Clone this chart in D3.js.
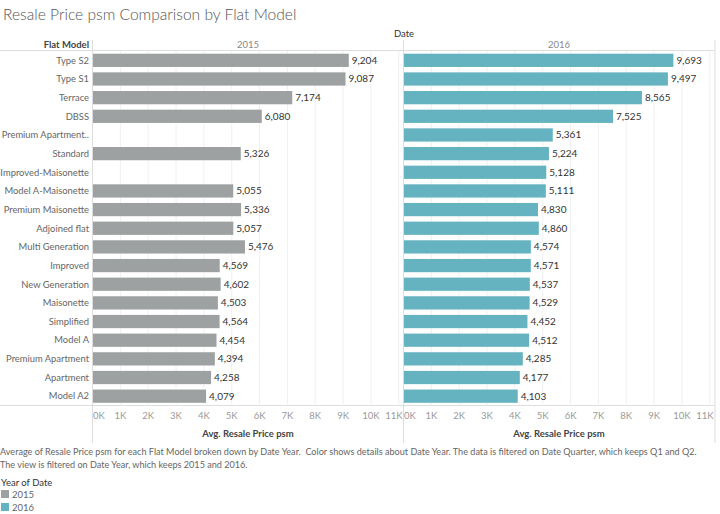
<!DOCTYPE html>
<html><head><meta charset="utf-8">
<script src="https://cdn.jsdelivr.net/npm/d3@7"></script>
<style>body{margin:0;background:#fff;} svg{display:block;font-family:Lato, "Open Sans", sans-serif;}</style>
</head><body>
<svg id="c" width="720" height="514"></svg>
<script>
const categories = ["Type S2","Type S1","Terrace","DBSS","Premium Apartment..","Standard","Improved-Maisonette","Model A-Maisonette","Premium Maisonette","Adjoined flat","Multi Generation","Improved","New Generation","Maisonette","Simplified","Model A","Premium Apartment","Apartment","Model A2"];
const years = ["2015","2016"];
const values2015 = [9204,9087,7174,6080,null,5326,null,5055,5336,5057,5476,4569,4602,4503,4564,4454,4394,4258,4079];
const values2016 = [9693,9497,8565,7525,5361,5224,5128,5111,4830,4860,4574,4571,4537,4529,4452,4512,4285,4177,4103];
const tickValues = [0,1000,2000,3000,4000,5000,6000,7000,8000,9000,10000,11000];
const colors = {"2015":"#9da1a2","2016":"#65b3c1"};

const svg = d3.select("#c");
const plotTop = 51, plotBottom = 405.5, plotLeft = 92.5, panelW = 311, rightEdge = 715;
const y = d3.scaleBand().domain(categories).range([plotTop, plotBottom]).paddingInner(0.29).paddingOuter(0.145);
const series = {"2015": values2015, "2016": values2016};
const fmt = d3.format(",");

svg.append("text").attr("x",3).attr("y",20).attr("font-size",15.6).attr("fill","#555").attr("font-weight",300).text("Resale Price psm Comparison by Flat Model");
svg.append("text").attr("x",404).attr("y",37).attr("text-anchor","middle").attr("font-size",9.5).attr("fill","#333").text("Date");
svg.append("text").attr("x",89).attr("y",48).attr("text-anchor","end").attr("font-size",9.5).attr("font-weight",700).attr("fill","#444").text("Flat Model");

svg.append("line").attr("x1",0).attr("x2",rightEdge).attr("y1",plotTop-0.5).attr("y2",plotTop-0.5).attr("stroke","#ddd");
svg.append("line").attr("x1",0).attr("x2",rightEdge).attr("y1",plotBottom).attr("y2",plotBottom).attr("stroke","#ddd");

years.forEach((yr, pi) => {
  const x0 = plotLeft + pi*panelW;
  const x = d3.scaleLinear().domain([0, 11170]).range([x0, x0+panelW]);
  const g = svg.append("g");
  g.selectAll("line.grid").data(tickValues.slice(1)).join("line")
    .attr("x1",d=>x(d)).attr("x2",d=>x(d)).attr("y1",plotTop).attr("y2",plotBottom).attr("stroke","#f0f0f0");
  g.append("text").attr("x",x0+panelW/2).attr("y",48).attr("text-anchor","middle").attr("font-size",9.5).attr("fill","#888").text(yr);
  const data = categories.map((c,i)=>({c, v: series[yr][i]})).filter(d=>d.v!=null);
  g.selectAll("rect").data(data).join("rect")
    .attr("x",x(0)).attr("y",d=>y(d.c)).attr("width",d=>x(d.v)-x(0)).attr("height",y.bandwidth()).attr("fill",colors[yr]);
  g.selectAll("text.val").data(data).join("text").attr("class","val")
    .attr("x",d=>x(d.v)+3).attr("y",d=>y(d.c)+y.bandwidth()/2).attr("dy","0.35em")
    .attr("font-size",10).attr("fill","#333").text(d=>fmt(d.v));
  g.selectAll("text.tick").data(tickValues).join("text").attr("class","tick")
    .attr("x",d=>{ const w = d>=10000?15:11; let cx = x(d); cx = Math.max(x0+1+w/2, Math.min(x0+panelW-2-w/2, cx)); return cx; })
    .attr("y",419).attr("text-anchor","middle").attr("font-size",9.5).attr("fill","#999").text(d=>(d/1000)+"K");
  g.append("text").attr("x",x0+panelW/2).attr("y",437).attr("text-anchor","middle").attr("font-size",9.5).attr("fill","#444").attr("font-weight",700).text("Avg. Resale Price psm");
  g.append("line").attr("x1",x0).attr("x2",x0).attr("y1",40).attr("y2",443).attr("stroke","#ddd");
});
svg.append("line").attr("x1",rightEdge).attr("x2",rightEdge).attr("y1",40).attr("y2",443).attr("stroke","#ddd");

svg.selectAll("text.cat").data(categories).join("text").attr("class","cat")
  .attr("x",89).attr("y",d=>y(d)+y.bandwidth()/2).attr("dy","0.35em").attr("text-anchor","end")
  .attr("font-size",9.4).attr("fill","#666").text(d=>d);

const foot = ["Average of Resale Price psm for each Flat Model broken down by Date Year.  Color shows details about Date Year. The data is filtered on Date Quarter, which keeps Q1 and Q2.",
"The view is filtered on Date Year, which keeps 2015 and 2016."];
foot.forEach((t,i)=>svg.append("text").attr("x",0).attr("y",455+i*13).attr("font-size",9.1).attr("fill","#666").style("white-space","pre").text(t));
svg.append("text").attr("x",1).attr("y",486).attr("font-size",9.5).attr("fill","#333").text("Year of Date");
years.forEach((yr,i)=>{
  svg.append("rect").attr("x",1).attr("y",490+i*13).attr("width",8).attr("height",8).attr("fill",colors[yr]);
  svg.append("text").attr("x",12).attr("y",498+i*13).attr("font-size",9.5).attr("fill","#666").text(yr);
});
</script>
</body></html>
